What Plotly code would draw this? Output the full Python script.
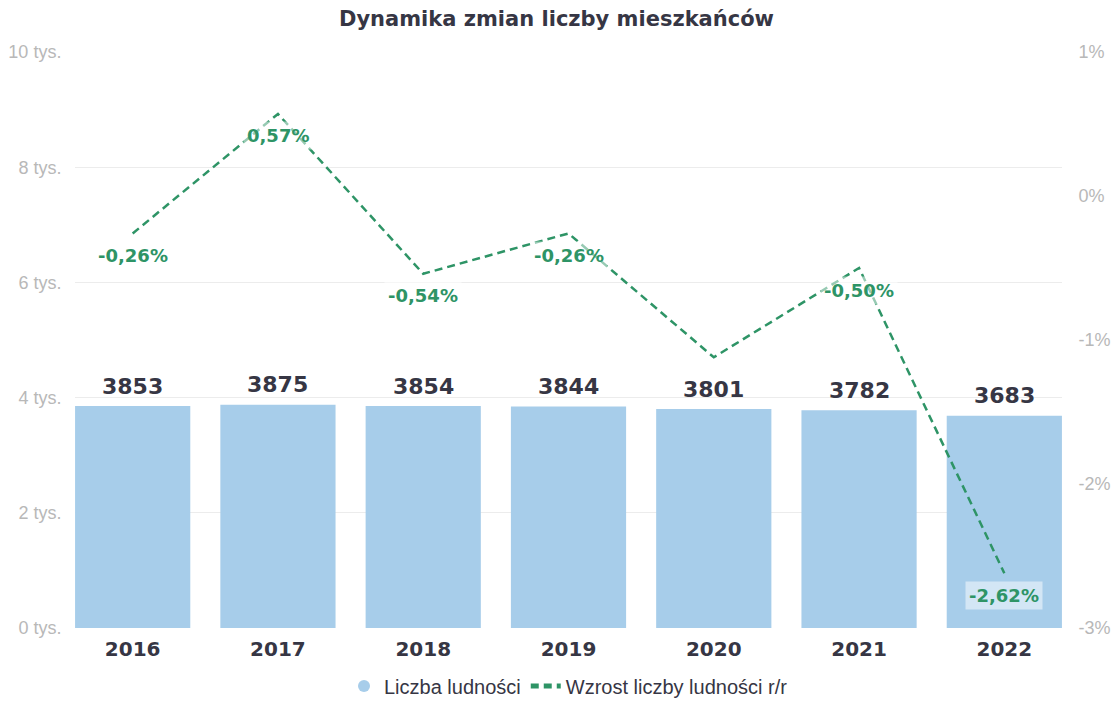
import plotly.graph_objects as go

years = ["2016", "2017", "2018", "2019", "2020", "2021", "2022"]
population = [3853, 3875, 3854, 3844, 3801, 3782, 3683]
growth_pct = [-0.26, 0.57, -0.54, -0.26, -1.12, -0.50, -2.62]
show_growth_label = [True, True, True, True, False, True, True]

left_tickvals = [0, 2000, 4000, 6000, 8000, 10000]
left_ticktext = ["0 tys.", "2 tys.", "4 tys.", "6 tys.", "8 tys.", "10 tys."]
right_tickvals = [1, 0, -1, -2, -3]
right_ticktext = ["1%", "0%", "-1%", "-2%", "-3%"]

BAR_COLOR = "#a7cdea"
LINE_COLOR = "#2e9466"
DARK = "#363644"
GRAY = "#b8b8b8"
FONT = "Liberation Sans, Arial, sans-serif"
BOLD_FONT = "DejaVu Sans, Verdana, sans-serif"

fig = go.Figure()

fig.add_trace(go.Bar(
    x=years, y=population, name="Liczba ludności",
    marker=dict(color=BAR_COLOR, line=dict(width=0)),
    width=0.793, showlegend=False, hoverinfo="x+y",
))
# legend proxy with circle symbol
fig.add_trace(go.Scatter(
    x=[None], y=[None], mode="markers", name="Liczba ludności",
    marker=dict(symbol="circle", size=10, color=BAR_COLOR),
))
fig.add_trace(go.Scatter(
    x=years, y=growth_pct, yaxis="y2", mode="lines",
    name="Wzrost liczby ludności r/r",
    line=dict(color=LINE_COLOR, width=2.5, dash="8px,5px"),
    cliponaxis=False,
))

annotations = []
# bar value labels (category axis: x as category index)
for i, v in enumerate(population):
    annotations.append(dict(
        x=i, y=v, xref="x", yref="y", yshift=20, yanchor="middle",
        text="<b>%d</b>" % v, showarrow=False,
        font=dict(size=22, color=DARK, family=BOLD_FONT),
    ))
# growth labels
for i, (v, show) in enumerate(zip(growth_pct, show_growth_label)):
    if not show:
        continue
    annotations.append(dict(
        x=i, y=v, xref="x", yref="y2", yshift=-22, yanchor="middle",
        text="<b>" + ("%.2f%%" % v).replace(".", ",") + "</b>",
        showarrow=False,
        font=dict(size=18, color=LINE_COLOR, family=BOLD_FONT),
        bgcolor="rgba(255,255,255,0.5)", borderpad=3,
    ))

fig.update_layout(
    width=1113, height=702,
    margin=dict(l=75, r=51, t=52, b=74, autoexpand=False),
    paper_bgcolor="white", plot_bgcolor="white",
    annotations=annotations,
    title=dict(text="<b>Dynamika zmian liczby mieszkańców</b>",
               x=0.5, xanchor="center", y=1 - 19 / 702, yanchor="middle",
               yref="container",
               font=dict(size=21, color=DARK, family=BOLD_FONT)),
    font=dict(family=FONT),
    xaxis=dict(
        type="category", range=[-0.397, 6.397],
        tickfont=dict(size=20, color=DARK, family=BOLD_FONT),
        tickvals=years, ticktext=["<b>%s</b>" % y for y in years],
        showgrid=False, showline=False, zeroline=False,
        ticks="outside", ticklen=3, tickcolor="rgba(0,0,0,0)",
    ),
    yaxis=dict(
        range=[0, 10000], tickvals=left_tickvals, ticktext=left_ticktext,
        tickfont=dict(size=18, color=GRAY, family=FONT),
        showgrid=True, gridcolor="#ececec", gridwidth=1,
        zeroline=False, showline=False,
        ticks="outside", ticklen=9, tickcolor="rgba(0,0,0,0)",
    ),
    yaxis2=dict(
        overlaying="y", side="right", range=[-3, 1],
        tickvals=right_tickvals, ticktext=right_ticktext,
        tickfont=dict(size=18, color=GRAY, family=FONT),
        showgrid=False, zeroline=False, showline=False,
        ticks="outside", ticklen=12, tickcolor="rgba(0,0,0,0)",
    ),
    legend=dict(
        orientation="h", x=0.5, xanchor="center",
        yref="container", y=1 - 686 / 702, yanchor="middle",
        font=dict(size=20, color=DARK, family=FONT),
        itemsizing="constant", traceorder="normal",
    ),
    bargap=0.2,
)

fig.write_html("out.html", config={"displayModeBar": False},
               post_script="document.body.style.margin='0';")
